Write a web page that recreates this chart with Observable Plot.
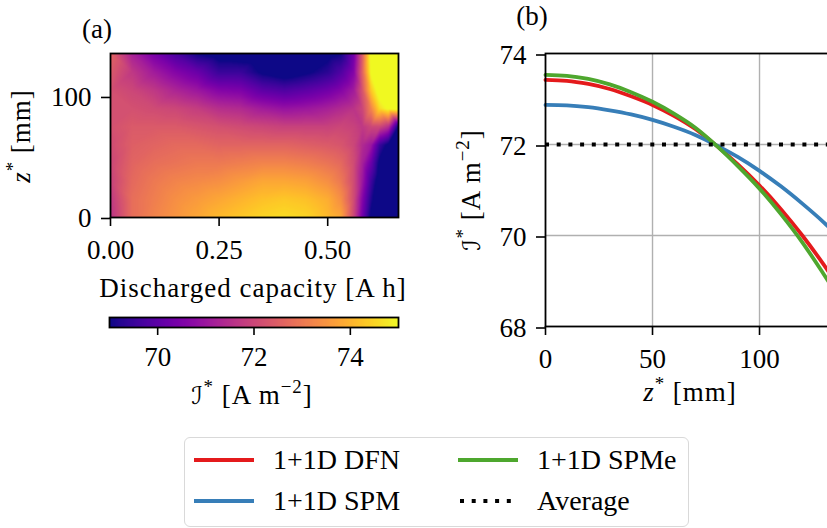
<!DOCTYPE html>
<html><head><meta charset="utf-8">
<script src="https://cdn.jsdelivr.net/npm/d3@7"></script>
<script src="https://cdn.jsdelivr.net/npm/@observablehq/plot@0.6"></script>
<style>
html,body{margin:0;padding:0;background:#fff;overflow:hidden;width:827px;height:528px;}
#root{position:relative;width:827px;height:528px;overflow:hidden;font-family:'Liberation Serif',serif;color:#000;}
.abs{position:absolute;}
#legend{position:absolute;left:184px;top:437px;width:503px;height:88px;border:1.3px solid #d9d9d9;border-radius:6px;background:#fff;}
.lg-text{position:absolute;font-size:28px;line-height:28px;white-space:nowrap;transform:translateY(-50%);}
</style></head><body><div id="root"><div id="legend"></div></div>
<script>
// ---------------- data ----------------
// panel (a): heat map of local current density I* over discharged capacity (columns) and z* (rows)
const capacity = [0, 0.05, 0.10, 0.15, 0.20, 0.25, 0.30, 0.35, 0.40, 0.45, 0.50, 0.53, 0.56, 0.58, 0.60, 0.62, 0.64, 0.663];
const zGrid = [0, 15, 30, 45, 60, 75, 90, 105, 120, 135.5];
const currentRows = [
  [71.6, 72.8, 73.2, 73.5, 73.8, 74.1, 74.3, 74.5, 74.6, 74.5, 74.1, 73.8, 72.0, 70.3, 68.8, 68.3, 68.3, 68.3],
  [71.7, 72.8, 73.1, 73.4, 73.6, 73.8, 74.0, 74.2, 74.3, 74.2, 73.9, 73.4, 72.1, 70.6, 69.2, 68.4, 68.3, 68.3],
  [71.9, 72.7, 73.0, 73.2, 73.3, 73.4, 73.6, 73.8, 73.8, 73.7, 73.4, 73.0, 72.1, 71.0, 69.6, 68.5, 68.4, 68.3],
  [72.0, 72.6, 72.8, 72.9, 73.0, 73.0, 73.1, 73.2, 73.2, 73.1, 72.9, 72.7, 72.1, 71.2, 70.2, 68.8, 68.4, 68.3],
  [72.1, 72.5, 72.6, 72.7, 72.7, 72.6, 72.6, 72.6, 72.6, 72.5, 72.4, 72.3, 72.0, 71.4, 71.0, 69.5, 68.8, 68.4],
  [72.2, 72.4, 72.4, 72.4, 72.3, 72.2, 72.1, 72.0, 71.9, 71.9, 71.9, 72.0, 71.9, 71.7, 72.0, 72.0, 71.5, 68.9],
  [72.2, 72.2, 72.1, 72.0, 71.8, 71.5, 71.4, 71.1, 70.9, 71.0, 71.2, 71.4, 71.6, 72.0, 73.2, 74.6, 75.1, 75.3],
  [72.2, 72.0, 71.7, 71.3, 71.0, 70.6, 70.5, 70.0, 69.8, 70.0, 70.3, 70.6, 71.1, 72.3, 74.3, 75.4, 75.6, 75.7],
  [72.4, 71.7, 71.1, 70.6, 70.2, 69.5, 69.5, 68.9, 68.6, 68.9, 69.3, 69.8, 70.6, 72.6, 75.1, 75.6, 75.7, 75.7],
  [72.6, 71.2, 70.4, 69.7, 69.0, 68.7, 68.6, 68.5, 68.4, 68.5, 68.8, 69.0, 70.3, 72.5, 75.3, 75.6, 75.7, 75.7]
];
const capTicks = [0, 0.25, 0.5];
const zHeatTicks = [0, 100];
const colorTicks = [70, 72, 74];

// panel (b): current density profiles along z*
const zProfile = [0, 10, 20, 30, 40, 50, 60, 70, 80, 90, 100, 110, 120, 130, 135];
const dfn  = [73.42, 73.40, 73.33, 73.22, 73.06, 72.87, 72.63, 72.34, 71.97, 71.56, 71.10, 70.58, 70.00, 69.36, 69.02];
const spm  = [72.87, 72.86, 72.82, 72.75, 72.66, 72.54, 72.39, 72.21, 71.98, 71.72, 71.42, 71.08, 70.70, 70.29, 70.07];
const spme = [73.53, 73.51, 73.44, 73.32, 73.15, 72.94, 72.68, 72.37, 71.97, 71.52, 71.03, 70.47, 69.85, 69.15, 68.79];
const average = 72;
const zTicksB = [0, 50, 100];
const iTicksB = [68, 70, 72, 74];

const models = ["1+1D DFN", "1+1D SPM", "1+1D SPMe", "Average"];
const modelColors = ["#e41a1c", "#377eb8", "#4ea72e", "#000000"];

// ---------------- helpers ----------------
const FONT = "'Liberation Serif', serif";
const TICK = 27;
const LINE_W = 3.8, DOT_W = 4, DOTS = "4,7.7";
const baseStyle = {fontFamily: FONT, fontSize: TICK + "px", color: "#000", background: "transparent", overflow: "visible"};

function label(svg, x, y, parts, {rotate = 0, size = 27, anchor = "middle", spacing = 1} = {}) {
  const t = d3.select(svg).append("text")
    .attr("transform", `translate(${x},${y}) rotate(${rotate})`)
    .attr("text-anchor", anchor).attr("font-size", size).attr("fill", "#000")
    .attr("font-family", FONT).attr("letter-spacing", spacing);
  let shift = 0;
  for (const p of parts) {
    const s = t.append("tspan").text(p.t);
    if (p.it) s.attr("font-style", "italic");
    if (p.script) s.attr("font-family", "'DejaVu Sans',sans-serif").attr("font-size", size * 0.9);
    if (p.sup) {
      const up = size * 0.42;
      s.attr("font-size", size * 0.7).attr("dy", -up - shift);
      shift = -up;
    } else if (shift !== 0) {
      s.attr("dy", -shift);
      shift = 0;
    }
  }
  return t;
}
const root = document.getElementById("root");
function place(el, left, top) { el.classList.add("abs"); el.style.left = left + "px"; el.style.top = top + "px"; root.appendChild(el); }

const colorScale = {type: "linear", scheme: "plasma", domain: [69, 75], clamp: true};

// ---------------- panel (a) ----------------
const heatData = [];
zGrid.forEach((z, i) => capacity.forEach((c, j) => heatData.push({c, z, v: currentRows[i][j]})));

const pa = Plot.plot({
  width: 420, height: 312,
  marginLeft: 110, marginRight: 22, marginTop: 53, marginBottom: 95,
  style: baseStyle,
  x: {domain: [0, 0.663]},
  y: {domain: [0, 135.5]},
  color: colorScale,
  marks: [
    Plot.raster(heatData, {x: "c", y: "z", fill: "v", interpolate: "barycentric", x1: 0, x2: 0.663, y1: 0, y2: 135.5}),
    Plot.frame({stroke: "#000", strokeWidth: 1.8}),
    Plot.axisX({ticks: capTicks, tickFormat: d3.format(".2f"), tickSize: 9, tickPadding: 13, strokeWidth: 1.6, label: null, fontSize: TICK}),
    Plot.axisY({ticks: zHeatTicks, tickFormat: d3.format("d"), tickSize: 9, tickPadding: 10, strokeWidth: 1.6, label: null, fontSize: TICK, dy: 1})
  ]
});
label(pa, 97, 38, [{t: "(a)"}], {spacing: 0});
label(pa, 253, 297, [{t: "Discharged capacity [A\u2009h]"}]);
label(pa, 30, 136, [{t: "z", it: true}, {t: "*", sup: true}, {t: " [mm]"}], {rotate: -90});
place(pa, 0, 0);

// colour bar
const cb = Plot.plot({
  width: 420, height: 115,
  marginLeft: 109, marginRight: 22, marginTop: 5, marginBottom: 100,
  style: baseStyle,
  x: {domain: [69, 75]},
  y: {domain: [0, 1], axis: null},
  color: colorScale,
  marks: [
    Plot.raster({fill: (x, y) => x, x1: 69, x2: 75, y1: 0, y2: 1}),
    Plot.frame({stroke: "#000", strokeWidth: 1.8}),
    Plot.axisX({ticks: colorTicks, tickFormat: d3.format("d"), tickSize: 8, tickPadding: 11, strokeWidth: 1.6, label: null, fontSize: TICK})
  ]
});
label(cb, 252, 92, [{t: "\u2110", script: true}, {t: "*", sup: true}, {t: " [A\u2009m"}, {t: "\u22122", sup: true}, {t: "]"}]);
place(cb, 0, 312);

// ---------------- panel (b) ----------------
const pb = Plot.plot({
  width: 415, height: 420,
  marginLeft: 125, marginRight: 0, marginTop: 53, marginBottom: 94,
  style: baseStyle,
  x: {domain: [0, 135.5]},
  y: {domain: [68, 74]},
  marks: [
    Plot.gridX(zTicksB.slice(1), {stroke: "#b0b0b0", strokeOpacity: 1, strokeWidth: 1.4}),
    Plot.gridY([70, 72], {stroke: "#b0b0b0", strokeOpacity: 1, strokeWidth: 1.4}),
    Plot.line(zProfile, {x: d => d, y: (d, i) => dfn[i], stroke: modelColors[0], strokeWidth: LINE_W, curve: "monotone-x"}),
    Plot.line(zProfile, {x: d => d, y: (d, i) => spm[i], stroke: modelColors[1], strokeWidth: LINE_W, curve: "monotone-x"}),
    Plot.line(zProfile, {x: d => d, y: (d, i) => spme[i], stroke: modelColors[2], strokeWidth: LINE_W, curve: "monotone-x"}),
    Plot.ruleY([average], {stroke: modelColors[3], strokeWidth: DOT_W, strokeDasharray: DOTS}),
    Plot.frame({stroke: "#000", strokeWidth: 1.8}),
    Plot.axisX({ticks: zTicksB, tickFormat: d3.format("d"), tickSize: 9, tickPadding: 13, strokeWidth: 1.6, label: null, fontSize: TICK}),
    Plot.axisY({ticks: iTicksB, tickFormat: d3.format("d"), tickSize: 9, tickPadding: 10, strokeWidth: 1.6, label: null, fontSize: TICK, dy: 1.5})
  ]
});
label(pb, 112, 25, [{t: "(b)"}], {spacing: 0});
label(pb, 270, 401, [{t: "z", it: true}, {t: "*", sup: true}, {t: " [mm]"}]);
label(pb, 60, 190, [{t: "\u2110", script: true}, {t: "*", sup: true}, {t: " [A\u2009m"}, {t: "\u22122", sup: true}, {t: "]"}], {rotate: -90});
place(pb, 420, 0);

// ---------------- legend ----------------
const legend = document.getElementById("legend");
const entries = [
  {name: models[0], color: modelColors[0], col: 0, row: 0},
  {name: models[1], color: modelColors[1], col: 0, row: 1},
  {name: models[2], color: modelColors[2], col: 1, row: 0},
  {name: models[3], color: modelColors[3], col: 1, row: 1, dotted: true}
];
const colX = [9, 273], rowY = [22, 63];
for (const e of entries) {
  const ns = "http://www.w3.org/2000/svg";
  const s = document.createElementNS(ns, "svg");
  s.setAttribute("width", 62); s.setAttribute("height", 10);
  s.style.position = "absolute"; s.style.left = colX[e.col] + "px"; s.style.top = (rowY[e.row] - 5) + "px";
  const l = document.createElementNS(ns, "line");
  l.setAttribute("x1", e.dotted ? 2 : 0); l.setAttribute("x2", e.dotted ? 56 : 60); l.setAttribute("y1", 5); l.setAttribute("y2", 5);
  l.setAttribute("stroke", e.color); l.setAttribute("stroke-width", e.dotted ? DOT_W : LINE_W);
  if (e.dotted) l.setAttribute("stroke-dasharray", DOTS);
  s.appendChild(l); legend.appendChild(s);
  const t = document.createElement("div");
  t.className = "lg-text"; t.textContent = e.name;
  t.style.left = (colX[e.col] + 79) + "px"; t.style.top = rowY[e.row] + "px";
  legend.appendChild(t);
}
</script></body></html>
